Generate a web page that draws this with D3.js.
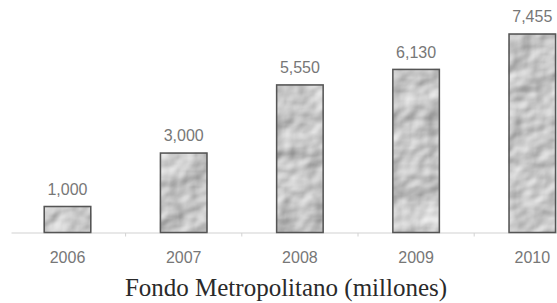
<!DOCTYPE html>
<html>
<head>
<meta charset="utf-8">
<script src="https://cdn.jsdelivr.net/npm/d3@7"></script>
<style>
  body { margin: 0; background: #fff; }
  svg { display: block; }
</style>
</head>
<body>
<svg id="chart" width="557" height="303"></svg>
<script>
var years = ["2006", "2007", "2008", "2009", "2010"];
var amounts = [1000, 3000, 5550, 6130, 7455];
var title = "Fondo Metropolitano (millones)";

var svg = d3.select("#chart");
var baseY = 232.5;

var x = d3.scaleBand()
  .domain(years)
  .range([9.4, 590.4])
  .paddingInner(0.587)
  .paddingOuter(0.2935);

var y = d3.scaleLinear()
  .domain([0, 7455])
  .range([baseY, 33.3]);

var fmt = d3.format(",");

// crumpled foil texture, one filter per bar so they don't look identical
var defs = svg.append("defs");
years.forEach(function(yr, i) {
  var f = defs.append("filter")
    .attr("id", "foil" + i)
    .attr("x", 0).attr("y", 0).attr("width", 1).attr("height", 1)
    .attr("color-interpolation-filters", "sRGB");
  f.append("feTurbulence")
    .attr("type", "fractalNoise")
    .attr("baseFrequency", "0.028 0.032")
    .attr("numOctaves", 3)
    .attr("seed", 5 + i * 11)
    .attr("result", "noise");
  var light = f.append("feDiffuseLighting")
    .attr("in", "noise")
    .attr("surfaceScale", 3)
    .attr("diffuseConstant", 1.1)
    .attr("lighting-color", "#ececec")
    .attr("result", "lit");
  light.append("feDistantLight")
    .attr("azimuth", 225)
    .attr("elevation", 50);
  f.append("feComposite")
    .attr("in", "lit")
    .attr("in2", "SourceGraphic")
    .attr("operator", "in");
});

// axis line + separator ticks
svg.append("line")
  .attr("x1", 11.5).attr("x2", 557)
  .attr("y1", baseY + 0.5).attr("y2", baseY + 0.5)
  .attr("stroke", "#d2d2d2")
  .attr("stroke-width", 1.2);

var gap = x.step() * x.paddingInner();
svg.selectAll(".sep")
  .data(years.slice(0, -1))
  .enter().append("line")
  .attr("class", "sep")
  .attr("x1", function(d) { return x(d) + x.bandwidth() + gap / 2; })
  .attr("x2", function(d) { return x(d) + x.bandwidth() + gap / 2; })
  .attr("y1", baseY + 0.5)
  .attr("y2", baseY + 4)
  .attr("stroke", "#d2d2d2");

// bars
svg.selectAll(".bar")
  .data(amounts)
  .enter().append("rect")
  .attr("class", "bar")
  .attr("x", function(d, i) { return x(years[i]); })
  .attr("y", function(d) { return y(d); })
  .attr("width", x.bandwidth())
  .attr("height", function(d) { return baseY - y(d); })
  .attr("fill", "#bbb")
  .attr("filter", function(d, i) { return "url(#foil" + i + ")"; });

svg.selectAll(".barEdge")
  .data(amounts)
  .enter().append("rect")
  .attr("class", "barEdge")
  .attr("x", function(d, i) { return x(years[i]) + 0.75; })
  .attr("y", function(d) { return y(d) + 0.75; })
  .attr("width", x.bandwidth() - 1.5)
  .attr("height", function(d) { return baseY - y(d) - 0.75; })
  .attr("fill", "none")
  .attr("stroke", "#555")
  .attr("stroke-width", 1.5);

// value labels
svg.selectAll(".val")
  .data(amounts)
  .enter().append("text")
  .attr("class", "val")
  .attr("x", function(d, i) { return x(years[i]) + x.bandwidth() / 2; })
  .attr("y", function(d) { return y(d) - 11; })
  .attr("text-anchor", "middle")
  .attr("font-family", "Liberation Sans, Arial, sans-serif")
  .attr("font-size", 16)
  .attr("fill", "#777")
  .text(function(d) { return fmt(d); });

// year labels
var xAxis = d3.axisBottom(x).tickSize(0).tickPadding(0);
var gx = svg.append("g")
  .attr("transform", "translate(0," + 251.5 + ")")
  .call(xAxis);
gx.select(".domain").remove();
gx.selectAll("text")
  .attr("dy", "0.71em")
  .attr("font-family", "Liberation Sans, Arial, sans-serif")
  .attr("font-size", 16)
  .attr("fill", "#777");

svg.append("text")
  .attr("x", 286)
  .attr("y", 296)
  .attr("text-anchor", "middle")
  .attr("font-family", "Liberation Serif, Times New Roman, serif")
  .attr("font-size", 25)
  .attr("fill", "#2a2a2a")
  .text(title);
</script>
</body>
</html>
